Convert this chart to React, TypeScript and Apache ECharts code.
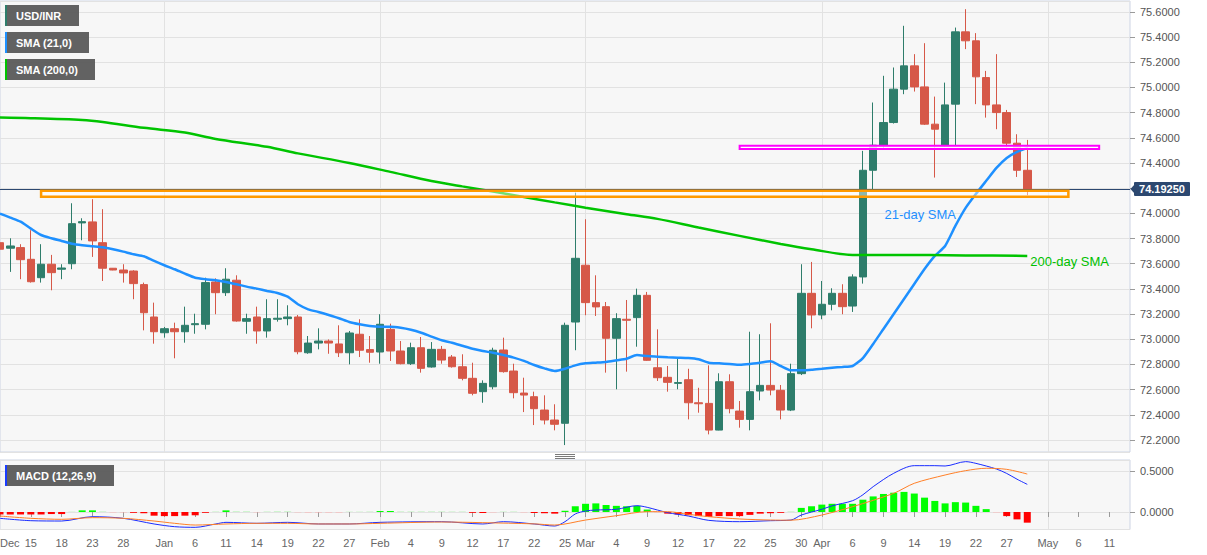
import React, { useEffect, useRef } from 'react';
import * as echarts from 'echarts';

// weekday categories (Dec 10, 2020 .. May 13, 2021)
const dates = [
  '2020-12-10','2020-12-11','2020-12-14','2020-12-15','2020-12-16','2020-12-17','2020-12-18','2020-12-21','2020-12-22','2020-12-23',
  '2020-12-24','2020-12-25','2020-12-28','2020-12-29','2020-12-30','2020-12-31',
  '2021-01-01','2021-01-04','2021-01-05','2021-01-06','2021-01-07','2021-01-08','2021-01-11','2021-01-12','2021-01-13','2021-01-14',
  '2021-01-15','2021-01-18','2021-01-19','2021-01-20','2021-01-21','2021-01-22','2021-01-25','2021-01-26','2021-01-27','2021-01-28','2021-01-29',
  '2021-02-01','2021-02-02','2021-02-03','2021-02-04','2021-02-05','2021-02-08','2021-02-09','2021-02-10','2021-02-11','2021-02-12',
  '2021-02-15','2021-02-16','2021-02-17','2021-02-18','2021-02-19','2021-02-22','2021-02-23','2021-02-24','2021-02-25','2021-02-26',
  '2021-03-01','2021-03-02','2021-03-03','2021-03-04','2021-03-05','2021-03-08','2021-03-09','2021-03-10','2021-03-11','2021-03-12',
  '2021-03-15','2021-03-16','2021-03-17','2021-03-18','2021-03-19','2021-03-22','2021-03-23','2021-03-24','2021-03-25','2021-03-26',
  '2021-03-29','2021-03-30','2021-03-31',
  '2021-04-01','2021-04-02','2021-04-05','2021-04-06','2021-04-07','2021-04-08','2021-04-09','2021-04-12','2021-04-13','2021-04-14',
  '2021-04-15','2021-04-16','2021-04-19','2021-04-20','2021-04-21','2021-04-22','2021-04-23','2021-04-26','2021-04-27','2021-04-28',
  '2021-04-29','2021-04-30',
  '2021-05-03','2021-05-04','2021-05-05','2021-05-06','2021-05-07','2021-05-10','2021-05-11','2021-05-12','2021-05-13',
];

const open = [
  73.767,73.723,73.728,73.635,73.489,73.596,73.556,73.600,73.924,73.932,
  73.767,73.564,73.550,73.542,73.434,73.177,73.052,73.084,73.060,73.116,
  73.119,73.455,73.370,73.469,73.143,73.177,73.066,73.159,73.164,73.177,
  72.893,72.970,72.986,72.963,72.893,73.040,72.918,72.899,73.079,72.907,
  72.806,72.933,72.780,72.920,72.859,72.782,72.690,72.584,72.623,72.915,
  72.748,72.573,72.544,72.438,72.359,72.333,73.137,73.588,73.291,73.259,
  73.008,73.159,73.172,73.349,72.774,72.698,72.650,72.679,72.496,72.491,
  72.279,72.663,72.430,72.364,72.589,72.634,72.595,72.438,72.727,73.365,
  73.193,73.278,73.365,73.264,73.495,74.342,74.541,74.721,74.986,75.171,
  75.004,74.708,74.536,74.867,75.441,75.370,75.078,74.861,74.800,74.557,
  74.342,
];
const close = [
  73.715,73.741,73.632,73.457,73.596,73.529,73.566,73.918,73.934,73.781,
  73.564,73.550,73.527,73.442,73.211,73.060,73.084,73.060,73.111,73.124,
  73.450,73.370,73.477,73.145,73.164,73.066,73.164,73.167,73.177,72.901,
  72.970,72.986,72.970,72.893,73.050,72.913,72.897,73.119,72.907,72.806,
  72.933,72.769,72.920,72.835,72.782,72.690,72.571,72.650,72.913,72.743,
  72.576,72.557,72.449,72.359,72.325,73.111,73.643,73.291,73.257,73.008,
  73.164,73.151,73.349,72.833,72.695,72.658,72.656,72.496,72.488,72.279,
  72.663,72.449,72.364,72.584,72.634,72.597,72.438,72.727,73.365,73.193,
  73.278,73.365,73.259,73.495,74.342,74.541,74.721,74.986,75.171,75.004,
  74.708,74.668,74.861,75.441,75.370,75.084,74.861,74.800,74.557,74.342,
  74.1925,
];
const high = [
  73.807,73.802,73.755,73.866,73.755,73.670,73.596,74.080,73.961,74.112,
  74.033,73.566,73.596,73.548,73.450,73.291,73.098,73.132,73.259,73.203,
  73.489,73.484,73.564,73.508,73.203,73.259,73.318,73.318,73.270,73.193,
  73.026,73.087,72.999,73.111,73.066,73.159,73.026,73.199,73.124,72.986,
  72.973,73.018,72.978,72.947,72.875,72.881,72.814,72.674,72.933,73.013,
  72.806,72.695,72.584,72.555,72.484,73.132,74.164,73.953,73.508,73.296,
  73.207,73.312,73.402,73.376,73.079,72.788,72.849,72.766,72.615,72.793,
  72.730,72.722,72.510,73.060,73.040,73.127,72.637,72.806,73.596,73.614,
  73.463,73.405,73.437,73.516,74.496,74.880,75.092,75.158,75.489,75.264,
  75.351,74.927,75.038,75.475,75.621,75.431,75.131,75.264,74.821,74.628,
  74.583,
];
const low = [
  73.635,73.535,73.477,73.450,73.450,73.389,73.477,73.556,73.786,73.654,
  73.463,73.548,73.450,73.318,73.071,72.965,73.013,72.849,72.973,73.044,
  73.079,73.199,73.344,73.140,73.044,72.965,73.013,73.140,73.111,72.881,
  72.885,72.920,72.885,72.859,72.801,72.859,72.814,72.806,72.828,72.801,
  72.796,72.735,72.775,72.806,72.775,72.674,72.555,72.496,72.603,72.735,
  72.531,72.422,72.319,72.324,72.277,72.160,72.913,73.191,73.185,72.735,
  72.603,72.743,72.941,72.828,72.669,72.584,72.603,72.364,72.417,72.245,
  72.277,72.412,72.298,72.277,72.515,72.555,72.364,72.430,72.716,73.087,
  73.159,73.230,73.199,73.217,73.442,74.184,74.509,74.713,74.946,74.967,
  74.702,74.284,74.528,74.536,75.304,74.867,74.760,74.668,74.522,74.289,
  74.144,
];

const sma21 = [
  73.998,73.966,73.934,73.879,73.828,73.802,73.781,73.759,73.747,73.739,
  73.731,73.715,73.696,73.675,73.659,73.622,73.588,73.556,73.521,73.489,
  73.477,73.469,73.455,73.437,73.418,73.402,73.384,73.368,73.338,73.278,
  73.238,73.217,73.193,73.167,73.137,73.119,73.106,73.100,73.100,73.092,
  73.076,73.052,73.021,72.992,72.973,72.949,72.925,72.907,72.893,72.875,
  72.854,72.828,72.796,72.769,72.748,72.766,72.793,72.809,72.814,72.820,
  72.833,72.846,72.875,72.867,72.862,72.857,72.854,72.851,72.841,72.814,
  72.809,72.804,72.798,72.804,72.814,72.825,72.788,72.754,72.754,72.758,
  72.766,72.774,72.780,72.788,72.851,72.963,73.082,73.201,73.320,73.439,
  73.558,73.662,73.741,73.900,74.043,74.154,74.258,74.361,74.440,74.488,
  74.520,
];

const sma200: [string, number][] = [
  ['2020-12-10', 74.760], ['2020-12-15', 74.756], ['2020-12-22', 74.742], ['2020-12-24', 74.726],
  ['2020-12-30', 74.679], ['2021-01-05', 74.641], ['2021-01-08', 74.591], ['2021-01-15', 74.528],
  ['2021-01-20', 74.476], ['2021-01-27', 74.400], ['2021-02-02', 74.329], ['2021-02-08', 74.257],
  ['2021-02-11', 74.214], ['2021-02-16', 74.174], ['2021-02-19', 74.130], ['2021-02-24', 74.087],
  ['2021-03-01', 74.045], ['2021-03-05', 73.993], ['2021-03-10', 73.956], ['2021-03-16', 73.887],
  ['2021-03-22', 73.821], ['2021-03-26', 73.757], ['2021-03-31', 73.715], ['2021-04-06', 73.670],
  ['2021-04-12', 73.670], ['2021-04-21', 73.666], ['2021-04-29', 73.662],
];

const macdHist = [
  -0.03,-0.03,-0.03,-0.03,-0.03,-0.025,-0.025,0.003,0.02,0.02,
  0.005,-0.005,-0.005,-0.01,-0.015,-0.045,-0.05,-0.05,-0.045,-0.04,
  -0.01,0.004,0.02,0.006,0.006,-0.004,0.004,0.006,0.006,-0.004,
  -0.006,-0.006,-0.006,-0.006,0.003,0.003,0.004,0.012,0.012,0.005,
  0.005,0.005,0.005,0.005,0.004,0.004,-0.01,-0.012,-0.005,0.004,
  0.004,-0.005,-0.012,-0.015,-0.02,0.015,0.07,0.10,0.105,0.085,
  0.075,0.07,0.075,0.03,-0.004,-0.02,-0.03,-0.04,-0.05,-0.06,
  -0.05,-0.05,-0.05,-0.035,-0.02,-0.015,-0.01,0.005,0.05,0.07,
  0.09,0.10,0.10,0.10,0.15,0.19,0.22,0.235,0.245,0.225,
  0.175,0.135,0.105,0.12,0.115,0.075,0.035,-0.005,-0.05,-0.09,
  -0.13,
];

const macdLine: [string, number][] = [
  ['2020-12-10', -0.077], ['2020-12-15', -0.106], ['2020-12-18', -0.110], ['2020-12-23', -0.057],
  ['2020-12-28', -0.077], ['2020-12-31', -0.146], ['2021-01-04', -0.179], ['2021-01-06', -0.187],
  ['2021-01-08', -0.146], ['2021-01-11', -0.126], ['2021-01-14', -0.138], ['2021-01-19', -0.126],
  ['2021-01-22', -0.146], ['2021-01-27', -0.146], ['2021-02-01', -0.126], ['2021-02-09', -0.118],
  ['2021-02-15', -0.146], ['2021-02-17', -0.118], ['2021-02-22', -0.146], ['2021-02-24', -0.171],
  ['2021-02-25', -0.118], ['2021-02-26', -0.024], ['2021-03-01', 0.012], ['2021-03-02', 0.024],
  ['2021-03-04', 0.033], ['2021-03-08', 0.077], ['2021-03-09', 0.057], ['2021-03-11', -0.008],
  ['2021-03-15', -0.049], ['2021-03-17', -0.102], ['2021-03-22', -0.118], ['2021-03-25', -0.106],
  ['2021-03-29', -0.098], ['2021-03-30', -0.037], ['2021-04-01', 0.033], ['2021-04-02', 0.075],
  ['2021-04-06', 0.138], ['2021-04-07', 0.21], ['2021-04-08', 0.309], ['2021-04-12', 0.472],
  ['2021-04-14', 0.565], ['2021-04-16', 0.565], ['2021-04-19', 0.561], ['2021-04-21', 0.614],
  ['2021-04-22', 0.593], ['2021-04-26', 0.524], ['2021-04-27', 0.47], ['2021-04-28', 0.40],
  ['2021-04-29', 0.337],
];

const signalLine: [string, number][] = [
  ['2020-12-10', -0.049], ['2020-12-15', -0.077], ['2020-12-18', -0.089], ['2020-12-23', -0.069],
  ['2020-12-28', -0.077], ['2020-12-31', -0.110], ['2021-01-04', -0.138], ['2021-01-06', -0.159],
  ['2021-01-11', -0.146], ['2021-01-14', -0.138], ['2021-01-19', -0.138], ['2021-01-22', -0.146],
  ['2021-01-27', -0.146], ['2021-02-01', -0.138], ['2021-02-09', -0.122], ['2021-02-15', -0.130],
  ['2021-02-22', -0.145], ['2021-02-24', -0.159], ['2021-03-01', -0.098], ['2021-03-04', -0.045],
  ['2021-03-09', 0.004], ['2021-03-11', 0.004], ['2021-03-15', -0.028], ['2021-03-17', -0.057],
  ['2021-03-22', -0.085], ['2021-03-25', -0.098], ['2021-03-29', -0.100], ['2021-04-01', -0.037],
  ['2021-04-06', 0.065], ['2021-04-12', 0.228], ['2021-04-14', 0.350], ['2021-04-19', 0.451],
  ['2021-04-21', 0.504], ['2021-04-23', 0.533], ['2021-04-27', 0.520], ['2021-04-29', 0.463],
];

const tickDates = [
  '2020-12-10','2020-12-15','2020-12-18','2020-12-23','2020-12-28','2021-01-01','2021-01-06','2021-01-11',
  '2021-01-14','2021-01-19','2021-01-22','2021-01-27','2021-02-01','2021-02-04','2021-02-09','2021-02-12',
  '2021-02-17','2021-02-22','2021-02-25','2021-03-01','2021-03-04','2021-03-09','2021-03-12','2021-03-17',
  '2021-03-22','2021-03-25','2021-03-30','2021-04-01','2021-04-06','2021-04-09','2021-04-14','2021-04-19',
  '2021-04-22','2021-04-27','2021-05-03','2021-05-06','2021-05-11',
];
const tickTexts = [
  'Dec','15','18','23','28','Jan','6','11',
  '14','19','22','27','Feb','4','9','12',
  '17','22','25','Mar','4','9','12','17',
  '22','25','30','Apr','6','9','14','19',
  '22','27','May','6','11',
];
const monthStarts = ['2021-01-01', '2021-02-01', '2021-03-01', '2021-04-01', '2021-05-03'];

const lastClose = 74.1925;
const supportZone = { from: '2020-12-16', to: '2021-05-05', top: 74.180, bottom: 74.131 };
const resistanceZone = { from: '2021-03-22', to: '2021-05-10', top: 74.537, bottom: 74.511 };
const smaNotes = [
  { text: '21-day SMA', date: '2021-04-09', value: 73.987 },
  { text: '200-day SMA', date: '2021-04-29', value: 73.614 },
];

const UP = '#2e7d6b';
const DOWN = '#d65848';
const FONT = '"Liberation Sans", Arial, Helvetica, sans-serif';
const GRID_W = 1130;

export default function App() {
  const ref = useRef<HTMLDivElement>(null);

  useEffect(() => {
    const chart = echarts.init(ref.current!, undefined, { renderer: 'svg' });
    const tickMap = new Map(tickDates.map((d, i) => [d, tickTexts[i]]));
    const isTick = (_i: number, v: string) => tickMap.has(v);
    const isMonth = (_i: number, v: string) => monthStarts.includes(v);
    const on02 = (v: number) => Math.abs(v * 5 - Math.round(v * 5)) < 1e-6;
    const on05 = (v: number) => Math.abs(v * 2 - Math.round(v * 2)) < 1e-6;

    const gridBase = {
      show: true,
      left: 0,
      width: GRID_W,
      backgroundColor: '#f7f7f7',
      borderColor: '#cdd4e4',
      borderWidth: 1,
      outerBoundsMode: 'none',
      containLabel: false,
    };

    const splitLineX = { show: true, interval: isMonth, lineStyle: { color: '#e2e2e2', width: 1 } };

    const option: any = {
      animation: false,
      backgroundColor: '#ffffff',
      textStyle: { fontFamily: FONT },
      grid: [
        { ...gridBase, top: 1, height: 451 },
        { ...gridBase, top: 460, height: 69.5 },
      ],
      xAxis: [
        {
          type: 'category', gridIndex: 0, data: dates, boundaryGap: false,
          axisLine: { show: false }, axisTick: { show: false }, axisLabel: { show: false },
          splitLine: splitLineX,
        },
        {
          type: 'category', gridIndex: 1, data: dates, boundaryGap: false,
          axisLine: { show: false },
          axisTick: { show: true, interval: isTick, length: 5, lineStyle: { color: '#9a9a9a' } },
          axisLabel: {
            show: true, interval: isTick, color: '#666', fontSize: 11, margin: 8, fontFamily: FONT,
            formatter: (v: string) => tickMap.get(v) ?? '',
            alignMinLabel: 'left',
          },
          splitLine: splitLineX,
        },
      ],
      yAxis: [
        {
          type: 'value', gridIndex: 0, position: 'right', scale: true,
          min: 72.105, max: 75.686, splitNumber: 18,
          axisLine: { show: false },
          axisTick: { show: true, length: 5, lineStyle: { color: '#9a9a9a' } },
          axisLabel: {
            color: '#555', fontSize: 11, margin: 10, fontFamily: FONT,
            showMinLabel: false, showMaxLabel: false,
            // the level hidden behind the last-price tag is not labelled
            formatter: (v: number) => (on02(v) && Math.abs(v - lastClose) > 0.05 ? v.toFixed(4) : ''),
          },
          splitLine: { show: true, lineStyle: { color: '#e2e2e2' } },
        },
        {
          type: 'value', gridIndex: 1, position: 'right', scale: true,
          min: -0.2134, max: 0.634, splitNumber: 2,
          axisLine: { show: false },
          axisTick: { show: true, length: 5, lineStyle: { color: '#9a9a9a' } },
          axisLabel: {
            color: '#555', fontSize: 11, margin: 10, fontFamily: FONT,
            showMinLabel: false, showMaxLabel: false,
            formatter: (v: number) => (on05(v) ? v.toFixed(4) : ''),
          },
          splitLine: { show: true, lineStyle: { color: '#e2e2e2' } },
        },
      ],
      series: [
        {
          name: 'USD/INR', type: 'candlestick', xAxisIndex: 0, yAxisIndex: 0,
          barWidth: 8, z: 2,
          data: open.map((o, i) => [o, close[i], low[i], high[i]]),
          itemStyle: { color: UP, color0: DOWN, borderColor: UP, borderColor0: DOWN, borderWidth: 1 },
          markLine: {
            silent: true, symbol: ['none', 'none'], z: 4,
            label: { show: false },
            lineStyle: { color: '#2c4870', width: 1, type: 'solid' },
            data: [{ yAxis: lastClose }],
          },
        },
        {
          name: 'SMA (21,0)', type: 'line', xAxisIndex: 0, yAxisIndex: 0, z: 3,
          data: sma21, showSymbol: false, smooth: 0.2,
          lineStyle: { color: '#1e90ff', width: 2.5 }, itemStyle: { color: '#1e90ff' },
          markPoint: {
            silent: true, symbol: 'circle', symbolSize: 0,
            label: { show: true, position: 'right', distance: 1, color: '#1e90ff', fontSize: 13, fontFamily: FONT, formatter: smaNotes[0].text },
            data: [{ coord: [smaNotes[0].date, smaNotes[0].value] }],
          },
        },
        {
          name: 'SMA (200,0)', type: 'line', xAxisIndex: 0, yAxisIndex: 0, z: 3,
          data: sma200, showSymbol: false, smooth: 0.3,
          lineStyle: { color: '#00c400', width: 2.5 }, itemStyle: { color: '#00c400' },
          markPoint: {
            silent: true, symbol: 'circle', symbolSize: 0,
            label: { show: true, position: 'right', distance: 3, color: '#00c000', fontSize: 13, fontFamily: FONT, formatter: smaNotes[1].text },
            data: [{ coord: [smaNotes[1].date, smaNotes[1].value] }],
          },
          markArea: {
            silent: true, z: 6,
            label: { show: false },
            data: [
              [
                { xAxis: supportZone.from, yAxis: supportZone.top, itemStyle: { color: 'rgba(255,255,255,0.45)', borderColor: '#ff9a00', borderWidth: 2.5 } },
                { xAxis: supportZone.to, yAxis: supportZone.bottom },
              ],
              [
                { xAxis: resistanceZone.from, yAxis: resistanceZone.top, itemStyle: { color: 'rgba(255,255,255,0.85)', borderColor: '#ff00ff', borderWidth: 2 } },
                { xAxis: resistanceZone.to, yAxis: resistanceZone.bottom },
              ],
            ],
          },
        },
        {
          name: 'MACD hist', type: 'bar', xAxisIndex: 1, yAxisIndex: 1, barWidth: 7,
          data: macdHist.map((v) => ({
            value: v,
            itemStyle: {
              color: v >= 0 ? (v < 0.008 ? '#a6f0a6' : '#00ff00') : (v > -0.008 ? '#ffb0b0' : '#ff0000'),
            },
          })),
        },
        {
          name: 'MACD', type: 'line', xAxisIndex: 1, yAxisIndex: 1, z: 3,
          data: macdLine, showSymbol: false, smooth: 0.3,
          lineStyle: { color: '#1a2cff', width: 1 }, itemStyle: { color: '#1a2cff' },
        },
        {
          name: 'Signal', type: 'line', xAxisIndex: 1, yAxisIndex: 1, z: 3,
          data: signalLine, showSymbol: false, smooth: 0.3,
          lineStyle: { color: '#ff7f27', width: 1 }, itemStyle: { color: '#ff7f27' },
        },
      ],
    };

    chart.setOption(option);

    const py = chart.convertToPixel({ yAxisIndex: 0 }, lastClose) as number;
    const legendItems = [
      { text: 'USD/INR', color: UP, y: 5, w: 74 },
      { text: 'SMA (21,0)', color: '#1e90ff', y: 32, w: 84 },
      { text: 'SMA (200,0)', color: '#00c400', y: 59, w: 90 },
      { text: 'MACD (12,26,9)', color: '#1a3cff', y: 465, w: 109 },
    ];
    const elements: any[] = [];
    legendItems.forEach((it) => {
      elements.push(
        { type: 'rect', shape: { x: 5, y: it.y, width: it.w, height: 21 }, style: { fill: 'rgba(88,88,88,0.94)' }, z: 100 },
        { type: 'rect', shape: { x: 5, y: it.y, width: 2, height: 21 }, style: { fill: it.color }, z: 101 },
        {
          type: 'text', x: 16, y: it.y + 10.5, z: 101,
          style: { text: it.text, fill: '#ffffff', font: `bold 11px ${FONT}`, align: 'left', verticalAlign: 'middle' },
        },
      );
    });
    [454, 456, 458].forEach((y) => {
      elements.push({ type: 'line', shape: { x1: 555, y1: y + 0.5, x2: 575, y2: y + 0.5 }, style: { stroke: '#7a7a7a', lineWidth: 1 }, z: 100 });
    });
    elements.push(
      { type: 'polygon', shape: { points: [[1130.5, py], [1134.5, py - 4.5], [1134.5, py + 4.5]] }, style: { fill: '#2c4870' }, z: 100 },
      { type: 'rect', shape: { x: 1134, y: py - 7, width: 56, height: 14, r: 1 }, style: { fill: '#2c4870' }, z: 100 },
      {
        type: 'text', x: 1162, y: py, z: 101,
        style: { text: lastClose.toFixed(5), fill: '#ffffff', font: `bold 11px ${FONT}`, align: 'center', verticalAlign: 'middle' },
      },
    );
    chart.setOption({ graphic: { elements } });

    return () => chart.dispose();
  }, []);

  return (
    <div
      ref={ref}
      style={{ position: 'fixed', left: 0, top: 0, width: 1207, height: 555, background: '#ffffff' }}
    />
  );
}
